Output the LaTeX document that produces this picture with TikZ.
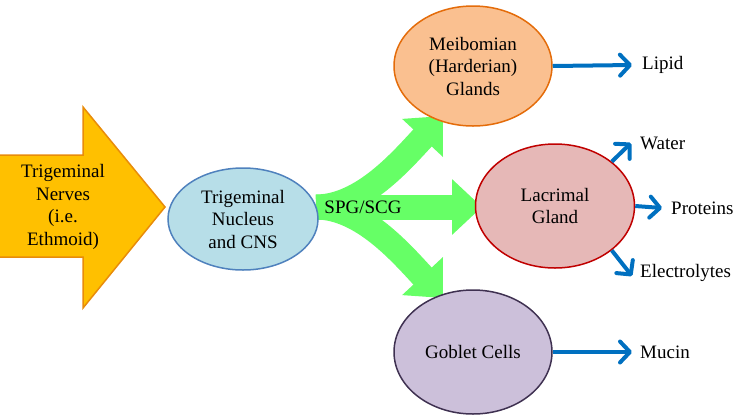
\documentclass[tikz,border=0pt]{standalone}
\usepackage{fontspec}
\setmainfont{Liberation Serif}
\usetikzlibrary{shapes.geometric,arrows.meta}
\definecolor{orfill}{RGB}{255,192,0}
\definecolor{ordraw}{RGB}{232,140,10}
\definecolor{bluefill}{RGB}{183,222,232}
\definecolor{bluedraw}{RGB}{79,129,189}
\definecolor{meibfill}{RGB}{250,192,144}
\definecolor{meibdraw}{RGB}{228,108,10}
\definecolor{lacfill}{RGB}{230,184,183}
\definecolor{lacdraw}{RGB}{192,0,0}
\definecolor{gobfill}{RGB}{204,192,218}
\definecolor{gobdraw}{RGB}{63,49,81}
\definecolor{grn}{RGB}{102,255,102}
\definecolor{arrblue}{RGB}{0,112,192}
\tikzset{
  txt/.style={font=\fontsize{19}{22.5}\selectfont, align=center, inner sep=0pt},
  ell/.style={ellipse, draw, line width=1.5pt, txt},
  lbl/.style={font=\fontsize{19}{22.5}\selectfont, inner sep=0pt, anchor=west},
  bluearr/.style={draw=arrblue, line width=4pt, -{Straight Barb[length=10pt,width=21pt,line cap=round, line join=round]}},
  grnarr/.style={draw=grn, line width=25pt, -{Triangle[length=30pt,width=54pt]}},
}
\begin{document}
\begin{tikzpicture}[x=1pt,y=-1pt]
\useasboundingbox (0,0) rectangle (737,416);
% orange arrow
\filldraw[fill=orfill, draw=ordraw, line width=1.5pt, line join=miter]
  (-2,155) -- (83,155) -- (83,107) -- (165,207) -- (83,308) -- (83,257) -- (-2,257) -- cycle;
\node[txt] (tn) at (63,207) {Trigeminal\\Nerves\\(i.e.\\Ethmoid)};
% green arrows
\coordinate (gs) at (316,207);
\coordinate (gup) at (443,116);
\coordinate (gmid) at (482,207);
\coordinate (gdn) at (443,298);
\draw[grnarr] (gs) .. controls (362,207) and (402,160) .. (gup);
\draw[grnarr] (gs) .. controls (362,207) and (402,254) .. (gdn);
\draw[grnarr] (gs) -- (gmid);
% ellipses
\node[ell, fill=bluefill, draw=bluedraw, minimum width=150pt, minimum height=102pt] (tnc) at (243,219) {Trigeminal\\Nucleus\\and CNS};
\node[ell, fill=meibfill, draw=meibdraw, minimum width=158pt, minimum height=120pt] (meib) at (473,66) {Meibomian\\(Harderian)\\Glands};
\node[ell, fill=lacfill, draw=lacdraw, minimum width=159pt, minimum height=124pt] (lac) at (555,206) {Lacrimal\\Gland};
\node[ell, fill=gobfill, draw=gobdraw, minimum width=158pt, minimum height=124pt] (gob) at (473,352) {Goblet Cells};
\node[txt] (spg) at (363,207) {SPG/SCG};
% labels
\node[lbl] (lipid) at (642,65) {Lipid};
\node[lbl] (water) at (640,143) {Water};
\node[lbl] (prot) at (671,208) {Proteins};
\node[lbl] (elec) at (640,273) {Electrolytes};
\node[lbl] (mucin) at (640,352) {Mucin};
% blue arrows
\draw[bluearr] (meib.east) -- ([xshift=-10pt]lipid.west);
\draw[bluearr] (lac.38) -- ([xshift=-9pt,yshift=0pt]water.west);
\draw[bluearr] (lac.east) -- ([xshift=-9pt]prot.west);
\draw[bluearr] (lac.-38) -- ([xshift=-8pt,yshift=-3pt]elec.west);
\draw[bluearr] (gob.east) -- ([xshift=-8pt]mucin.west);
\end{tikzpicture}
\end{document}
